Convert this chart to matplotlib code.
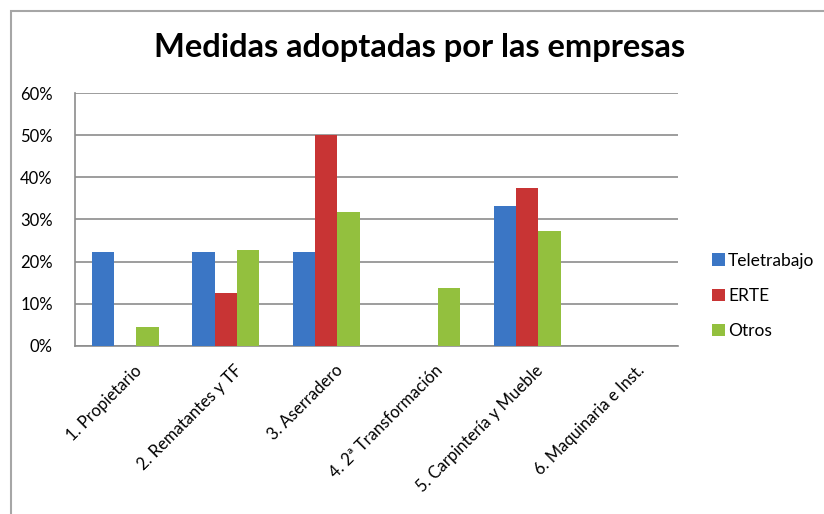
import numpy as np
import matplotlib.pyplot as plt
from matplotlib.patches import Rectangle
from matplotlib.ticker import PercentFormatter

plt.rcParams['font.family'] = ['Lato', 'DejaVu Sans']

categorias = ['1. Propietario', '2. Rematantes y TF', '3. Aserradero',
              '4. 2ª Transformación', '5. Carpintería y Mueble', '6. Maquinaria e Inst.']
teletrabajo = [22.2, 22.2, 22.2, 0, 33.3, 0]
erte = [0, 12.5, 50.0, 0, 37.5, 0]
otros = [4.5, 22.7, 31.8, 13.6, 27.3, 0]

series = [('Teletrabajo', teletrabajo, '#3b76c5'),
          ('ERTE', erte, '#c83434'),
          ('Otros', otros, '#93c03e')]

fig = plt.figure(figsize=(8.24, 5.14), dpi=100)
# marco gris del gráfico
fig.patches.append(Rectangle((11 / 824, -0.1), 1.2, 1 - 11 / 514 + 0.1,
                             transform=fig.transFigure, fill=False,
                             edgecolor='#a6a6a6', linewidth=1.5))

ax = fig.add_axes([75 / 824, 1 - 345.7 / 514, 603 / 824, 252.4 / 514])
x = np.arange(len(categorias))
w = 0.223
for i, (nombre, vals, color) in enumerate(series):
    ax.bar(x + (i - 1) * w, vals, w, color=color, label=nombre, zorder=3)

ax.set_xlim(-0.5, len(categorias) - 0.5)
ax.set_ylim(0, 60)
ax.set_yticks(np.arange(0, 61, 10))
ax.yaxis.set_major_formatter(PercentFormatter(decimals=0))
ax.grid(axis='y', color='#8c8c8c', linewidth=1.2, zorder=0)
for s in ['top', 'right']:
    ax.spines[s].set_visible(False)
ax.spines['left'].set_color('#8c8c8c')
ax.spines['bottom'].set_color('#8c8c8c')
ax.spines['left'].set_linewidth(1.2)
ax.spines['bottom'].set_linewidth(1.2)
ax.tick_params(axis='y', length=0, labelsize=12, pad=16)
ax.tick_params(axis='x', length=0, labelsize=12, pad=12)
ax.set_xticks(x + 0.08)
ax.set_xticklabels(categorias, rotation=45, ha='right', rotation_mode='anchor')

fig.text(420 / 824, 1 - 48 / 514, 'Medidas adoptadas por las empresas',
         ha='center', va='center', fontsize=23.5, fontweight='bold')

ax.legend(loc='center left', bbox_to_anchor=(1.03, 0.197), frameon=False,
          fontsize=12.5, handlelength=0.75, handleheight=0.75,
          handletextpad=0.2, labelspacing=1.1)

fig.savefig('out.png', dpi=100)
